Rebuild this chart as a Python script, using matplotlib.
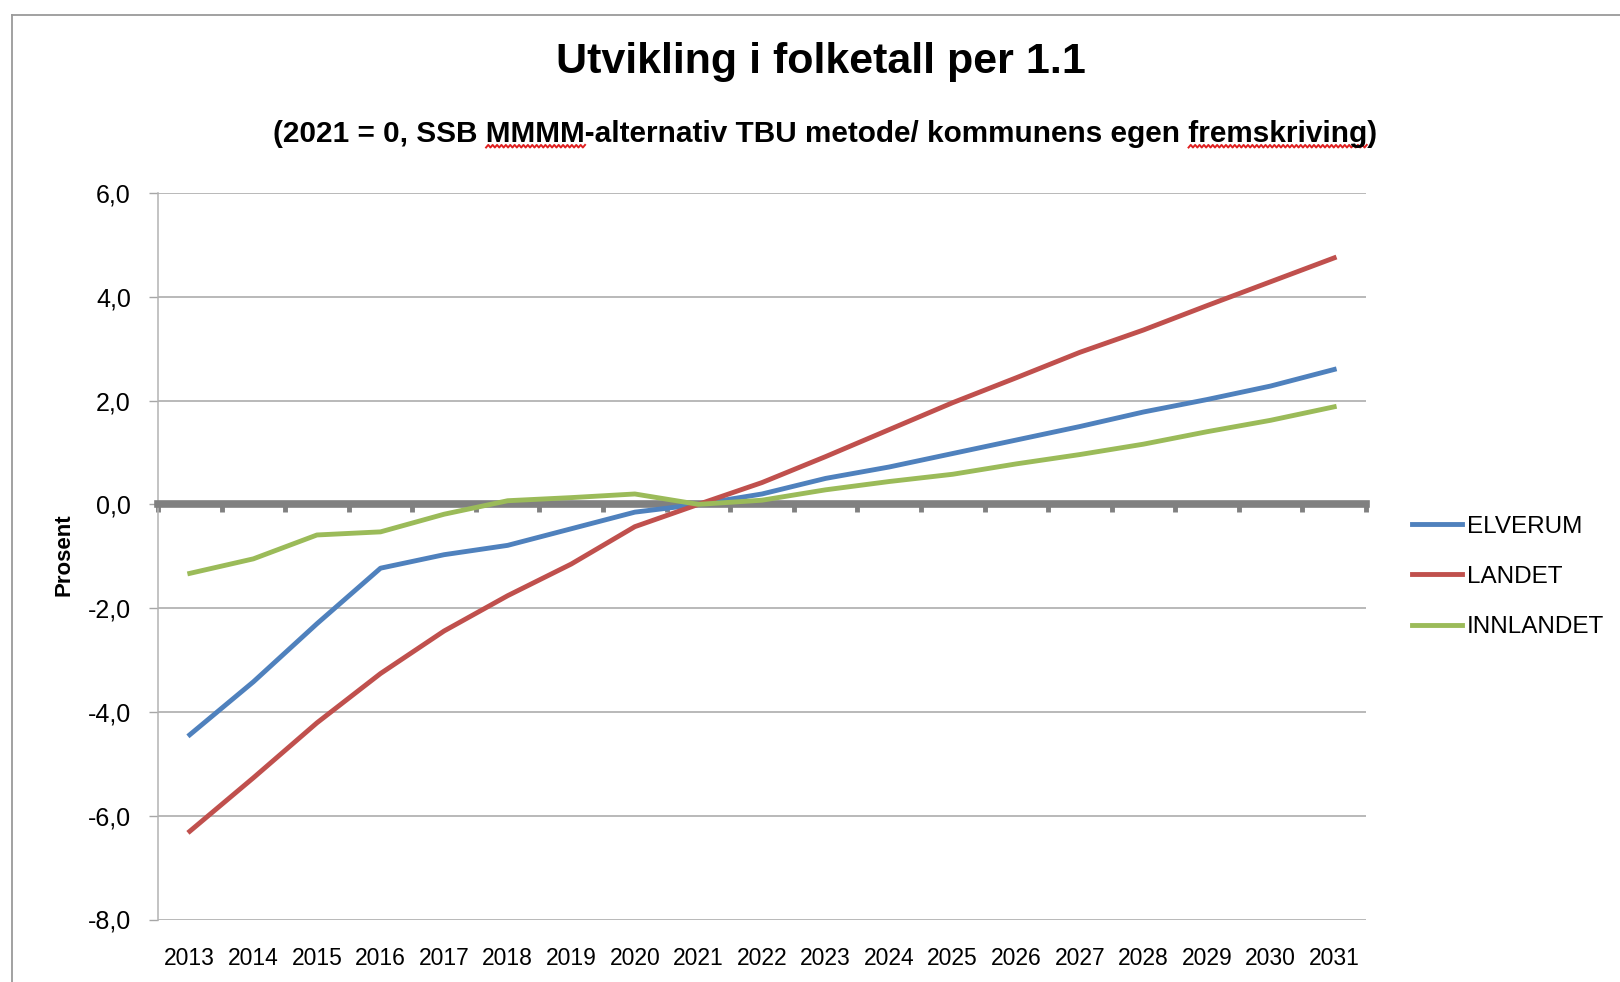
#!/usr/bin/env python3
"""Utvikling i folketall per 1.1 - line chart, 2021 = 0."""

import matplotlib
matplotlib.use("Agg")
import matplotlib.pyplot as plt
import matplotlib.transforms as mtransforms
from matplotlib.lines import Line2D
import numpy as np

YEARS = ["2013", "2014", "2015", "2016", "2017", "2018", "2019", "2020", "2021", "2022",
         "2023", "2024", "2025", "2026", "2027", "2028", "2029", "2030", "2031"]
ELVERUM = [-4.44, -3.42, -2.30, -1.23, -0.97, -0.79, -0.47, -0.15, 0.0, 0.20,
           0.50, 0.72, 0.98, 1.24, 1.50, 1.78, 2.02, 2.28, 2.60]
LANDET = [-6.30, -5.27, -4.21, -3.26, -2.44, -1.76, -1.15, -0.43, 0.0, 0.42,
          0.92, 1.44, 1.96, 2.44, 2.93, 3.36, 3.83, 4.29, 4.75]
INNLANDET = [-1.33, -1.05, -0.59, -0.53, -0.19, 0.07, 0.13, 0.20, 0.0, 0.08,
             0.28, 0.44, 0.58, 0.78, 0.96, 1.16, 1.40, 1.62, 1.88]
SERIES = ["ELVERUM", "LANDET", "INNLANDET"]
COLORS = ["#4F81BD", "#C0504D", "#9BBB59"]
Y_TICKS = [6, 4, 2, 0, -2, -4, -6, -8]
Y_LABELS = ["6,0", "4,0", "2,0", "0,0", "-2,0", "-4,0", "-6,0", "-8,0"]

TITLE = "Utvikling i folketall per 1.1"
SUBTITLE = "(2021 = 0, SSB MMMM-alternativ TBU metode/ kommunens egen fremskriving)"
SUB_SIZE = 21.4

plt.rcParams["font.family"] = ["Liberation Sans", "DejaVu Sans"]

W, H = 1620, 982
fig = plt.figure(figsize=(W / 100, H / 100), dpi=100)
fig.patch.set_facecolor("white")

# outer frame (only top and left visible in the screenshot)
fig.add_artist(Line2D([12 / W, 1], [1 - 15 / H, 1 - 15 / H], transform=fig.transFigure,
                      color="#9a9a9a", lw=1.3))
fig.add_artist(Line2D([12 / W, 12 / W], [0, 1 - 15 / H], transform=fig.transFigure,
                      color="#9a9a9a", lw=1.3))

ax = fig.add_axes([158 / W, 1 - 919.5 / H, (1366 - 158) / W, (919.5 - 193) / H])
x = np.arange(len(YEARS))
for name, vals, col in zip(SERIES, [ELVERUM, LANDET, INNLANDET], COLORS):
    ax.plot(x, vals, color=col, lw=3.5, label=name, zorder=3, solid_joinstyle="round")

ax.set_xlim(-0.5, len(YEARS) - 0.5)
ax.set_ylim(-8, 6)
ax.set_yticks(Y_TICKS)
ax.set_yticklabels(Y_LABELS, fontsize=18)
ax.yaxis.grid(True, color="#a6a6a6", lw=1.1)
ax.set_axisbelow(True)
ax.tick_params(axis="y", direction="out", length=6.5, width=1, color="#a6a6a6", pad=13)

# category axis crosses at 0 with ticks between categories
ax.set_xticks(np.arange(-0.5, len(YEARS), 1))
ax.spines["bottom"].set_position(("data", 0))
ax.spines["bottom"].set_color("#808080")
ax.spines["bottom"].set_linewidth(5.5)
ax.tick_params(axis="x", direction="out", length=5.5, width=3.5, color="#808080",
               labelbottom=False)
ax.spines[["top", "right"]].set_visible(False)
ax.spines["left"].set_color("#b3b3b3")
ax.spines["left"].set_linewidth(1.1)

blend = mtransforms.blended_transform_factory(ax.transData, ax.transAxes)
for i, lab in enumerate(YEARS):
    ax.text(i, -0.053, lab, transform=blend, ha="center", va="center", fontsize=16.5)

ax.set_ylabel("Prosent", fontsize=16, fontweight="bold")
ax.yaxis.set_label_coords(-0.0695, 0.502)

fig.text(821 / W, 1 - 72.7 / H, TITLE, ha="center", va="baseline", fontsize=31,
         fontweight="bold")
SUB_BASE = 141.5
sub = fig.text(799 * 1.033 / W, 1 - SUB_BASE / H, SUBTITLE, ha="center", va="baseline",
               fontsize=SUB_SIZE, fontweight="bold")

# red spell-check squiggles under two words of the subtitle
fig.canvas.draw()
renderer = fig.canvas.get_renderer()
full_bb = sub.get_window_extent(renderer)


def text_width(s):
    t = fig.text(0, 0, s, fontsize=SUB_SIZE, fontweight="bold")
    w = t.get_window_extent(renderer).width
    t.remove()
    return w


base_y = H - SUB_BASE
for word in ["MMMM", "fremskriving"]:
    start = SUBTITLE.index(word)
    x0 = full_bb.x0 + text_width(SUBTITLE[:start])
    x1 = full_bb.x0 + text_width(SUBTITLE[:start + len(word)])
    xs = np.arange(x0, x1 + 0.1, 2.2)
    ys = base_y - 6 + np.where(np.arange(len(xs)) % 2 == 0, 0, 2.6)
    fig.add_artist(Line2D(xs / W, ys / H, transform=fig.transFigure, color="#e02020", lw=1.4))

handles, labels = ax.get_legend_handles_labels()
fig.legend(handles, labels, loc="center left", bbox_to_anchor=(1390 / W, 1 - 577 / H),
           frameon=False, fontsize=17.5, handlelength=2.05, handletextpad=0.22,
           labelspacing=1.17)

fig.savefig("out.png", dpi=100, facecolor="white")
